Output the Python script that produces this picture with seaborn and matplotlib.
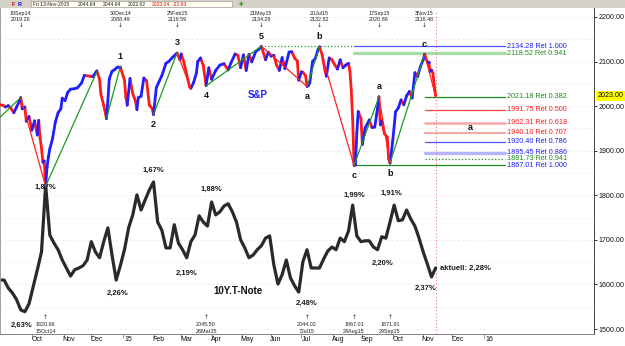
import numpy as np
import pandas as pd
import seaborn as sns
import matplotlib.pyplot as plt
import matplotlib.transforms as mtransforms

# ----------------------------
# Data
# ----------------------------
origin = np.datetime64("2014-08-29")

spx_dates = [
    "2014-08-29", "2014-09-02", "2014-09-04", "2014-09-08", "2014-09-10", "2014-09-12", "2014-09-16",
    "2014-09-18", "2014-09-19", "2014-09-22", "2014-09-24", "2014-09-25", "2014-09-29", "2014-10-01",
    "2014-10-03", "2014-10-07", "2014-10-08", "2014-10-09", "2014-10-10", "2014-10-13", "2014-10-14",
    "2014-10-15", "2014-10-16", "2014-10-17", "2014-10-20", "2014-10-22", "2014-10-24", "2014-10-28",
    "2014-10-30", "2014-10-31", "2014-11-04", "2014-11-06", "2014-11-10", "2014-11-13", "2014-11-17",
    "2014-11-20", "2014-11-24", "2014-11-28", "2014-12-02", "2014-12-05", "2014-12-09", "2014-12-10",
    "2014-12-12", "2014-12-16", "2014-12-17", "2014-12-18", "2014-12-22", "2014-12-24", "2014-12-26",
    "2014-12-30", "2015-01-02", "2015-01-05", "2015-01-06", "2015-01-08", "2015-01-09", "2015-01-12",
    "2015-01-14", "2015-01-15", "2015-01-16", "2015-01-20", "2015-01-22", "2015-01-26", "2015-01-28",
    "2015-01-30", "2015-02-02", "2015-02-04", "2015-02-06", "2015-02-10", "2015-02-13", "2015-02-17",
    "2015-02-20", "2015-02-25", "2015-02-27", "2015-03-02", "2015-03-04", "2015-03-06", "2015-03-10",
    "2015-03-11", "2015-03-13", "2015-03-17", "2015-03-18", "2015-03-20", "2015-03-24", "2015-03-26",
    "2015-03-30", "2015-04-01", "2015-04-06", "2015-04-09", "2015-04-14", "2015-04-17", "2015-04-21",
    "2015-04-24", "2015-04-28", "2015-04-30", "2015-05-04", "2015-05-06", "2015-05-08", "2015-05-12",
    "2015-05-15", "2015-05-19", "2015-05-21", "2015-05-26", "2015-05-28", "2015-06-01", "2015-06-03",
    "2015-06-05", "2015-06-09", "2015-06-11", "2015-06-15", "2015-06-18", "2015-06-22", "2015-06-24",
    "2015-06-26", "2015-06-29", "2015-07-01", "2015-07-02", "2015-07-06", "2015-07-07", "2015-07-08",
    "2015-07-09", "2015-07-13", "2015-07-15", "2015-07-17", "2015-07-20", "2015-07-22", "2015-07-24",
    "2015-07-27", "2015-07-29", "2015-07-31", "2015-08-04", "2015-08-06", "2015-08-10", "2015-08-12",
    "2015-08-14", "2015-08-18", "2015-08-19", "2015-08-20", "2015-08-21", "2015-08-24", "2015-08-25",
    "2015-08-26", "2015-08-27", "2015-08-31", "2015-09-01", "2015-09-03", "2015-09-08", "2015-09-10",
    "2015-09-14", "2015-09-16", "2015-09-17", "2015-09-18", "2015-09-21", "2015-09-23", "2015-09-25",
    "2015-09-28", "2015-09-29", "2015-10-01", "2015-10-05", "2015-10-07", "2015-10-09", "2015-10-13",
    "2015-10-15", "2015-10-19", "2015-10-21", "2015-10-23", "2015-10-27", "2015-10-29", "2015-11-02",
    "2015-11-03", "2015-11-05", "2015-11-06", "2015-11-09", "2015-11-10", "2015-11-11", "2015-11-12",
    "2015-11-13",
]
spx_vals = [
    2003, 2002, 1998, 2001, 1995, 1985, 1998,
    2011, 2019, 1994, 1998, 1966, 1977, 1946,
    1967, 1935, 1968, 1928, 1906, 1874, 1877,
    1821, 1863, 1886, 1904, 1927, 1964, 1985,
    1994, 2018, 2012, 2031, 2038, 2039, 2041,
    2052, 2069, 2067, 2066, 2079, 2060, 2026,
    2002, 1972, 2012, 2061, 2078, 2082, 2088,
    2088, 2058, 2020, 2002, 2062, 2044, 2028,
    2011, 1992, 2019, 2022, 2063, 2057, 2002,
    1995, 1981, 2041, 2055, 2068, 2096, 2100,
    2110, 2119, 2104, 2117, 2098, 2071, 2044,
    2040, 2053, 2074, 2100, 2108, 2091, 2046,
    2086, 2060, 2080, 2092, 2095, 2081, 2097,
    2117, 2114, 2086, 2115, 2080, 2116, 2099,
    2123, 2127, 2134, 2104, 2121, 2112, 2114,
    2092, 2080, 2109, 2084, 2121, 2122, 2108,
    2101, 2058, 2077, 2076, 2068, 2044, 2046,
    2052, 2100, 2107, 2127, 2133, 2114, 2080,
    2067, 2108, 2104, 2093, 2083, 2104, 2086,
    2092, 2096, 2079, 2035, 1971, 1867, 1868,
    1940, 1988, 1972, 1914, 1951, 1969, 1952,
    1953, 1996, 2021, 1958, 1967, 1938, 1931,
    1882, 1872, 1923, 1987, 1996, 2014, 2003,
    2023, 2033, 2018, 2075, 2066, 2089, 2104,
    2116, 2099, 2099, 2078, 2081, 2075, 2045,
    2023,
]

# 10Y T-Note, every third trading day, in chart units
tnote_dates = pd.bdate_range("2014-08-29", "2015-11-13", freq="3B")
tnote_vals = [
    1610, 1610, 1592, 1581, 1566, 1543, 1539, 1557, 1595, 1633,
    1673, 1823, 1711, 1693, 1678, 1655, 1637, 1619, 1633, 1637,
    1642, 1655, 1696, 1673, 1660, 1696, 1727, 1666, 1610, 1642,
    1678, 1727, 1756, 1801, 1767, 1790, 1812, 1830, 1740, 1722,
    1682, 1682, 1734, 1693, 1678, 1660, 1696, 1711, 1754, 1740,
    1731, 1785, 1756, 1763, 1776, 1781, 1763, 1740, 1700, 1682,
    1660, 1666, 1678, 1687, 1704, 1709, 1644, 1601, 1622, 1655,
    1615, 1597, 1583, 1651, 1678, 1637, 1637, 1637, 1657, 1675,
    1684, 1678, 1704, 1696, 1720, 1778, 1709, 1696, 1698, 1698,
    1684, 1678, 1707, 1704, 1740, 1778, 1743, 1745, 1767, 1747,
    1731, 1704, 1673, 1646, 1617, 1637,
]

# Elliott wave trend lines (pivot chains)
trend_dates = [
    ["2014-08-29", "2014-09-19", "2014-10-15", "2014-12-05"],
    ["2014-12-16", "2014-12-30"],
    ["2015-02-02", "2015-02-25", "2015-03-11"],
    ["2015-03-26", "2015-05-21", "2015-07-07", "2015-07-20", "2015-08-24",
     "2015-09-17", "2015-09-29", "2015-11-03", "2015-11-13"],
]
trend_vals = [
    [1975, 2019.26, 1820.66, 2077],
    [1972.56, 2088.49],
    [1980.90, 2119.59, 2039.69],
    [2045.50, 2134.28, 2044.02, 2132.82, 1867.01, 2020.86, 1871.91, 2116.48, 2022.02],
]

top_dates = ["2014-09-19", "2014-12-30", "2015-02-25", "2015-05-21", "2015-07-20", "2015-09-17", "2015-11-03"]
top_vals = [2019.26, 2088.49, 2119.59, 2134.28, 2132.82, 2020.86, 2116.48]
low_dates = ["2014-10-15", "2015-03-26", "2015-07-07", "2015-08-24", "2015-09-29"]
low_vals = [1820.66, 2045.50, 2044.02, 1867.01, 1871.91]

wave_names = ["1", "2", "3", "4", "5", "a", "b", "c", "a", "b", "c"]
wave_dates = ["2014-12-30", "2015-02-02", "2015-02-25", "2015-03-26", "2015-05-21", "2015-07-07",
              "2015-07-20", "2015-08-24", "2015-09-17", "2015-09-29", "2015-11-03"]
wave_vals = [2088.49, 1980.90, 2119.59, 2045.50, 2134.28, 2044.02, 2132.82, 1867.01, 2020.86, 1871.91, 2116.48]
wave_up = [True, False, True, False, True, False, True, False, True, False, True]

ret_vals = [2134.28, 2118.52, 2021.18, 1991.75, 1962.31, 1940.10, 1920.40, 1895.45, 1881.73, 1867.01]
ret_ratios = ["1.000", "0.941", "0.382", "0.500", "0.618", "0.707", "0.786", "0.886", "0.941", "1.000"]
ret_from = ["2015-08-24", "2015-08-24"] + ["2015-11-03"] * 7 + ["2015-08-24"]
ret_to = "2016-01-22"

pct_labels = ["1,87%", "2,63%", "2,26%", "1,67%", "2,19%", "1,88%", "2,48%", "1,99%", "1,91%", "2,20%", "2,37%"]
pct_dates = ["2014-10-15", "2014-09-22", "2014-12-26", "2015-02-02", "2015-03-06", "2015-04-01",
             "2015-07-07", "2015-08-24", "2015-09-30", "2015-09-22", "2015-11-04"]
pct_vals = [1817, 1509, 1581, 1855, 1626, 1814, 1557, 1801, 1805, 1648, 1592]

# ----------------------------
# Styles
# ----------------------------
BLUE, RED, GREEN = "#1f1fff", "#ff1a1a", "#1f8a1f"
ret_line_col = ["#5050ff", "#a8dca8", GREEN, "#ff4040", "#f5a8a8", "#f5a8a8", "#5050ff", "#b4b4ff", GREEN, GREEN]
ret_line_lw = [0.9, 2.4, 0.9, 0.9, 1.8, 1.5, 0.9, 2.4, 0.9, 0.9]
ret_line_ls = ["-", "-", "-", "-", "-", "-", "-", "-", ":", "-"]
ret_text_col = [BLUE, GREEN, GREEN, RED, RED, RED, BLUE, BLUE, GREEN, BLUE]


def bday(d):
    return np.busday_count(origin, np.array(d, dtype="datetime64[D]"))


sns.set_theme(style="white")
plt.rcParams["font.family"] = ["Liberation Sans", "DejaVu Sans"]

fig = plt.figure(figsize=(6.25, 3.46), dpi=100)
ax = fig.add_axes([0, 12 / 346, 594 / 625, 326 / 346])
xmax = 594 / 1.383
ax.set_xlim(0, xmax)
ax.set_ylim(1489, 2220)

# faint dotted grid
for v in np.arange(1500, 2201, 50):
    ax.axhline(v, color="#f3c4c4", lw=0.6, ls=(0, (1, 4)), zorder=0)

# ----------------------------
# 10Y T-Note
# ----------------------------
tn = pd.DataFrame({"x": bday(tnote_dates.values.astype("datetime64[D]")), "y": tnote_vals})
sns.lineplot(data=tn, x="x", y="y", color="#2a2a2a", lw=2.3, ax=ax, zorder=2)

# ----------------------------
# S&P, coloured by direction
# ----------------------------
sx = bday(spx_dates)
sy = np.array(spx_vals, dtype=float)
rows = []
for i in range(len(sx) - 1):
    d = "up" if sy[i + 1] >= sy[i] else "down"
    rows += [(i, d, sx[i], sy[i]), (i, d, sx[i + 1], sy[i + 1])]
seg = pd.DataFrame(rows, columns=["seg", "dir", "x", "y"])
sns.lineplot(data=seg, x="x", y="y", hue="dir", units="seg", estimator=None, sort=False,
             palette={"up": BLUE, "down": RED}, lw=2.0, legend=False, ax=ax, zorder=3)

# ----------------------------
# Trend lines
# ----------------------------
rows = []
k = 0
for dates, vals in zip(trend_dates, trend_vals):
    xs = bday(dates)
    for i in range(len(xs) - 1):
        d = "up" if vals[i + 1] >= vals[i] else "down"
        rows += [(k, d, xs[i], vals[i]), (k, d, xs[i + 1], vals[i + 1])]
        k += 1
tl = pd.DataFrame(rows, columns=["seg", "dir", "x", "y"])
sns.lineplot(data=tl, x="x", y="y", hue="dir", units="seg", estimator=None, sort=False,
             palette={"up": "#1e9a1e", "down": "#ff2020"}, lw=0.9, legend=False, ax=ax, zorder=4)

# top of wave 5 carried forward
ax.plot([bday("2015-05-21"), bday("2015-08-24")], [2134.28, 2134.28], color="#1e9a1e", lw=0.9, ls=":", zorder=4)

# ----------------------------
# Retracement levels
# ----------------------------
x_end = bday(ret_to)
for v, r, f, lc, lw, ls, tc in zip(ret_vals, ret_ratios, ret_from, ret_line_col, ret_line_lw, ret_line_ls, ret_text_col):
    ax.plot([bday(f), x_end], [v, v], color=lc, lw=lw, ls=ls, zorder=1)
    ax.text(x_end + 1.4, v, f"{v:.2f} Ret {r}", color=tc, fontsize=5.2, ha="left", va="center")

# current bar marker
ax.axvline(bday(spx_dates[-1]), ymax=0.985, color="#e08080", lw=0.8, ls=(0, (1, 2)), zorder=1)

# ----------------------------
# Labels
# ----------------------------
tr_top = mtransforms.blended_transform_factory(ax.transData, ax.transAxes)
for d, v in zip(top_dates, top_vals):
    ts = pd.Timestamp(d)
    x = bday(d)
    lab = f"{ts.day}{ts.strftime('%b%y')}"
    ax.text(x, 0.982, lab, transform=tr_top, fontsize=3.9, ha="center", va="center", color="#202020")
    ax.text(x, 0.965, f"{v:.2f}", transform=tr_top, fontsize=3.9, ha="center", va="center", color="#202020")
    ax.text(x, 0.947, "↓", transform=tr_top, fontsize=4.2, ha="center", va="center", color="#202020",
            family=["DejaVu Sans"])
for d, v in zip(low_dates, low_vals):
    ts = pd.Timestamp(d)
    x = bday(d)
    lab = f"{ts.day}{ts.strftime('%b%y')}"
    ax.text(x, 0.050, "↑", transform=tr_top, fontsize=4.2, ha="center", va="center", color="#202020",
            family=["DejaVu Sans"])
    ax.text(x, 0.028, f"{v:.2f}", transform=tr_top, fontsize=3.9, ha="center", va="center", color="#202020")
    ax.text(x, 0.008, lab, transform=tr_top, fontsize=3.9, ha="center", va="center", color="#202020")

for n, d, v, up in zip(wave_names, wave_dates, wave_vals, wave_up):
    ax.annotate(n, (bday(d), v), xytext=(0, 7.2 if up else -7.2), textcoords="offset points",
                ha="center", va="center", fontsize=6.5, fontweight="bold", color="#111111")
ax.text(bday("2015-12-18"), 1951, "a", ha="center", va="center", fontsize=6.5, fontweight="bold", color="#111111")
ax.text(bday("2015-05-18"), 2025, "S&P", ha="center", va="center", fontsize=7, fontweight="bold", color=BLUE)
ax.text(bday("2015-04-28"), 1586, "10Y.T-Note", ha="center", va="center", fontsize=7, fontweight="bold",
        color="#111111")
for t, d, v in zip(pct_labels, pct_dates, pct_vals):
    ax.text(bday(d), v, t, ha="center", va="center", fontsize=5.5, fontweight="bold", color="#1a1a1a")
ax.annotate("aktuell: 2,28%", (tn["x"].iloc[-1], tn["y"].iloc[-1]), xytext=(3, 0), textcoords="offset points",
            ha="left", va="center", fontsize=5.5, fontweight="bold", color="#1a1a1a",
            arrowprops=dict(arrowstyle="-", color="#1a1a1a", lw=0.8, shrinkA=0, shrinkB=0))

# ----------------------------
# Axes
# ----------------------------
ax.yaxis.tick_right()
ax.set_yticks(np.arange(1500, 2201, 100))
ax.set_yticklabels([f"{v:.2f}" for v in np.arange(1500, 2201, 100)])
ax.tick_params(axis="y", right=True, labelsize=5.1, length=2.5, width=0.6, pad=1, colors="#111111")

months = pd.date_range("2014-10-01", "2016-01-31", freq="BMS")
mx = bday(months.values.astype("datetime64[D]"))
ax.set_xticks(mx)
ax.set_xticklabels([])
ax.set_xticks(mx + 3.6, minor=True)
ax.set_xticklabels([m.strftime("%y") if m.month == 1 else m.strftime("%b") for m in months], minor=True)
ax.tick_params(axis="x", which="major", bottom=True, length=3, width=0.6, color="#808080")
ax.tick_params(axis="x", which="minor", bottom=False, length=0, labelsize=5, pad=1.5, labelcolor="#111111")
ax.set_xlabel("")
ax.set_ylabel("")

ax.spines["top"].set_visible(False)
ax.spines["right"].set_color("#404040")
ax.spines["left"].set_color("#a0a0a0")
ax.spines["bottom"].set_color("#808080")
for s in ["left", "bottom", "right"]:
    ax.spines[s].set_linewidth(0.7)

# current price box on the axis
tr_right = mtransforms.blended_transform_factory(ax.transAxes, ax.transData)
ax.text(1.006, spx_vals[-1], f"{spx_vals[-1]:.2f}", transform=tr_right, fontsize=5.1, ha="left", va="center",
        color="#000000", bbox=dict(boxstyle="square,pad=0.2", fc="#ffff00", ec="none"))

# ----------------------------
# Header strip
# ----------------------------
hax = fig.add_axes([0, 1 - 8 / 346, 1, 8 / 346])
hax.set_facecolor("#d4d0c8")
hax.set_xlim(0, 625)
hax.set_ylim(8, 0)
hax.set_xticks([])
hax.set_yticks([])
for s in hax.spines.values():
    s.set_visible(False)
hax.add_patch(plt.Rectangle((31, 0.8), 201, 6.6, fc="#fffff0", ec="#a0a0a0", lw=0.5))
hax.text(13, 4, "F", color="#d01010", fontsize=4, fontweight="bold", ha="center", va="center")
hax.text(20, 4, "R", color="#1010d0", fontsize=4, fontweight="bold", ha="center", va="center")
head_txt = ["Fri 13-Nov-2015", "2044.64", "2044.64", "2022.02", "2023.04", "-22.93"]
head_x = [33, 78, 103, 128, 152, 173]
head_c = ["#202020", "#202020", "#202020", "#202020", "#e01010", "#e01010"]
for t, x, c in zip(head_txt, head_x, head_c):
    hax.text(x, 4, t, color=c, fontsize=3.6, ha="left", va="center")
hax.text(241, 4, "✚", color="#1a9a1a", fontsize=4, ha="center", va="center", family=["DejaVu Sans"])

fig.savefig("out.png", dpi=100, facecolor="white")
